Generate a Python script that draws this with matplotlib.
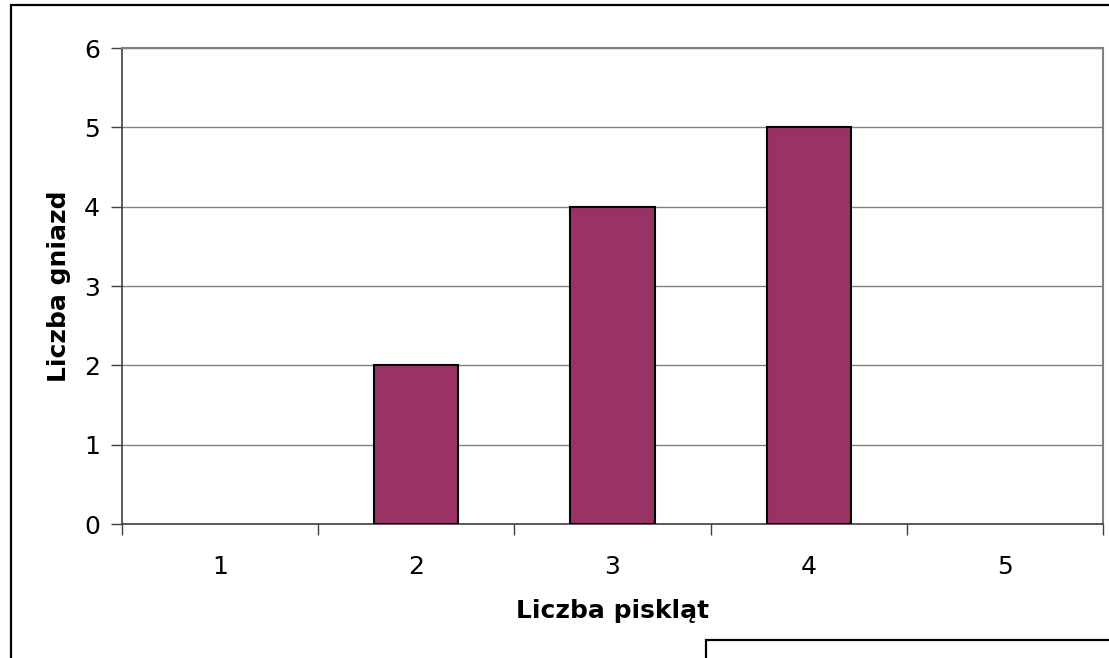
import matplotlib.pyplot as plt
from matplotlib.patches import Rectangle
from matplotlib.ticker import FixedLocator

chicks = [1, 2, 3, 4, 5]
nests = [0, 2, 4, 5, 0]
y_ticks = [0, 1, 2, 3, 4, 5, 6]

plt.rcParams['font.family'] = ['DejaVu Sans']

fig = plt.figure(figsize=(11.09, 6.58), dpi=100)
ax = fig.add_axes([122 / 1109, 1 - 524 / 658, (1103 - 122) / 1109, (524 - 48) / 658])

bars = ax.bar(chicks, nests, width=0.43, color='#993366', edgecolor='black', linewidth=1.5, zorder=3)
for b, v in zip(bars, nests):
    if v == 0:
        b.set_visible(False)

ax.set_xlim(0.5, 5.5)
ax.set_ylim(0, 6)
ax.set_yticks(y_ticks)
ax.set_xticks(chicks)
ax.xaxis.set_minor_locator(FixedLocator([0.5, 1.5, 2.5, 3.5, 4.5, 5.5]))
ax.tick_params(axis='x', which='major', length=0, pad=22, labelsize=18)
ax.tick_params(axis='x', which='minor', length=8, width=1, color='#404040', direction='out')
ax.tick_params(axis='y', length=8, width=1, color='#404040', direction='out', pad=8, labelsize=18)

ax.grid(axis='y', color='#808080', linewidth=1, zorder=0)
ax.set_axisbelow(True)
for side in ['top', 'right']:
    ax.spines[side].set_color('#808080')
    ax.spines[side].set_linewidth(1.5)
for side in ['left', 'bottom']:
    ax.spines[side].set_color('#404040')
    ax.spines[side].set_linewidth(1.2)

ax.set_xlabel('Liczba piskląt', fontsize=18, fontweight='bold', labelpad=15)
ax.set_ylabel('Liczba gniazd', fontsize=18, fontweight='bold', labelpad=9)

# outer chart frame and the clipped box in the bottom-right corner
fig.patches.append(Rectangle((11 / 1109, -0.1), 1.2, 1 - 5 / 658 + 0.1, transform=fig.transFigure,
                             fill=False, edgecolor='black', linewidth=1.6))
fig.patches.append(Rectangle((706 / 1109, -0.1), 0.5, 1 - 640 / 658 + 0.1, transform=fig.transFigure,
                             fill=False, edgecolor='black', linewidth=1.6))

fig.savefig('out.png', dpi=100)
